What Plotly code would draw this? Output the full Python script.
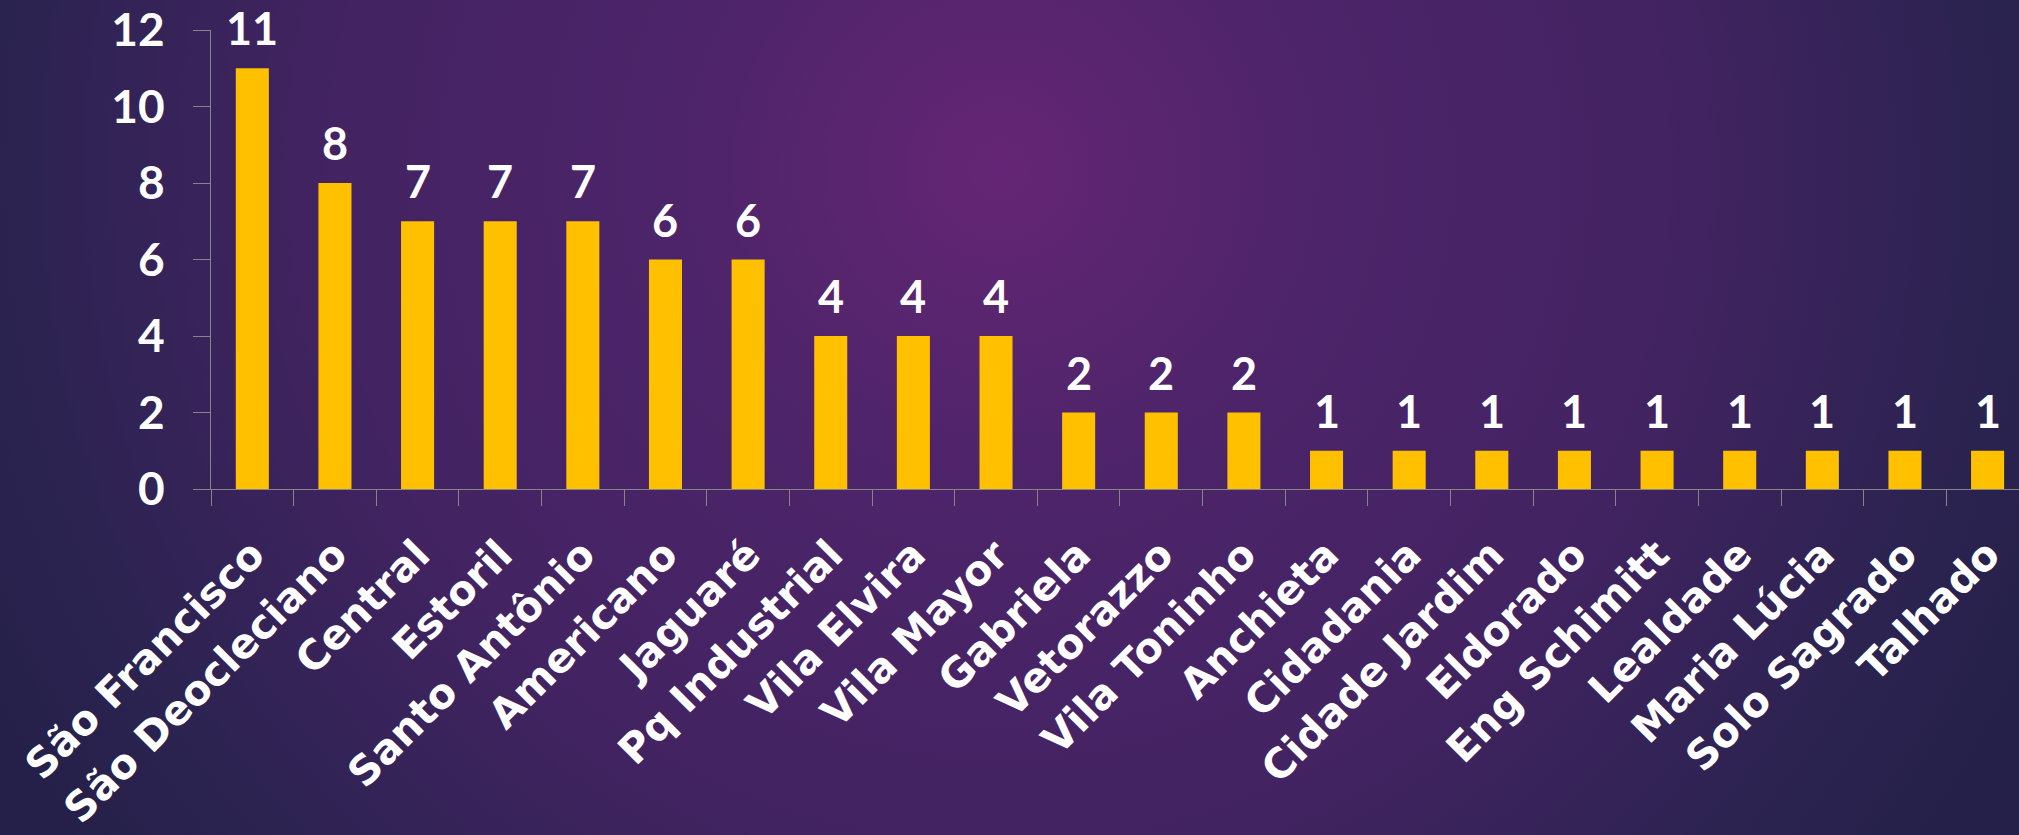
import base64
import plotly.graph_objects as go

categories = ["São Francisco", "São Deocleciano", "Central", "Estoril", "Santo Antônio",
              "Americano", "Jaguaré", "Pq Industrial", "Vila Elvira", "Vila Mayor",
              "Gabriela", "Vetorazzo", "Vila Toninho", "Anchieta", "Cidadania",
              "Cidade Jardim", "Eldorado", "Eng Schimitt", "Lealdade", "Maria Lúcia",
              "Solo Sagrado", "Talhado"]
values = [11, 8, 7, 7, 7, 6, 6, 4, 4, 4, 2, 2, 2, 1, 1, 1, 1, 1, 1, 1, 1, 1]
y_ticks = [0, 2, 4, 6, 8, 10, 12]

W, H = 2019, 835
ML, MR, MT, MB = 211, 0, 30, 346
PW, PH = W - ML - MR, H - MT - MB

FONT = "Lato"
LABEL_FONT = "DejaVu Sans"
BAR = "#FFC000"
AXIS = "#858585"

svg = f'''<svg xmlns="http://www.w3.org/2000/svg" width="{W}" height="{H}" viewBox="0 0 {W} {H}">
<defs><radialGradient id="g" gradientUnits="userSpaceOnUse" cx="1000" cy="170" r="1150">
<stop offset="0" stop-color="#652576"/>
<stop offset="0.12" stop-color="#5a256f"/>
<stop offset="0.25" stop-color="#4f246a"/>
<stop offset="0.38" stop-color="#492467"/>
<stop offset="0.58" stop-color="#432362"/>
<stop offset="0.85" stop-color="#2c2351"/>
<stop offset="1" stop-color="#242049"/>
</radialGradient></defs>
<rect x="0" y="0" width="{W}" height="{H}" fill="url(#g)"/>
</svg>'''
bg_src = "data:image/svg+xml;base64," + base64.b64encode(svg.encode("utf-8")).decode("ascii")

fig = go.Figure()
fig.add_trace(go.Bar(x=categories, y=values, marker=dict(color=BAR, line=dict(width=0)),
                     hoverinfo="x+y"))

for c, v in zip(categories, values):
    fig.add_annotation(x=c, y=v, text=str(v), showarrow=False, yanchor="bottom",
                       yshift=11, font=dict(family=FONT, size=45, color="white", weight="bold"))

fig.add_layout_image(dict(source=bg_src, xref="paper", yref="paper",
                          x=-ML / PW, y=1 + MT / PH, sizex=W / PW, sizey=H / PH,
                          xanchor="left", yanchor="top", sizing="stretch", layer="below"))

fig.update_layout(
    width=W, height=H,
    margin=dict(l=ML, r=MR, t=MT, b=MB, autoexpand=False),
    paper_bgcolor="#2a2350", plot_bgcolor="rgba(0,0,0,0)",
    bargap=0.6, showlegend=False,
    font=dict(family=FONT, color="white"),
)
fig.update_xaxes(
    type="category", range=[-0.5, 21.38], tickson="boundaries",
    ticks="outside", ticklen=16, tickwidth=1.3, tickcolor=AXIS,
    showline=True, linecolor=AXIS, linewidth=1.3, showgrid=False,
    tickangle=-45, ticklabelstandoff=24,
    tickfont=dict(family=LABEL_FONT, size=41, color="white", weight="bold"),
)
fig.update_yaxes(
    range=[0, 12], tickvals=y_ticks, ticks="outside", ticklen=17, tickwidth=1.3,
    tickcolor=AXIS, showline=True, linecolor=AXIS, linewidth=1.3,
    showgrid=False, zeroline=False, ticklabelstandoff=19,
    tickfont=dict(family=FONT, size=46, color="white", weight="bold"),
)

fig.write_html("out.html", config={"displayModeBar": False},
               post_script="document.body.style.margin='0';document.body.style.overflow='hidden';")
